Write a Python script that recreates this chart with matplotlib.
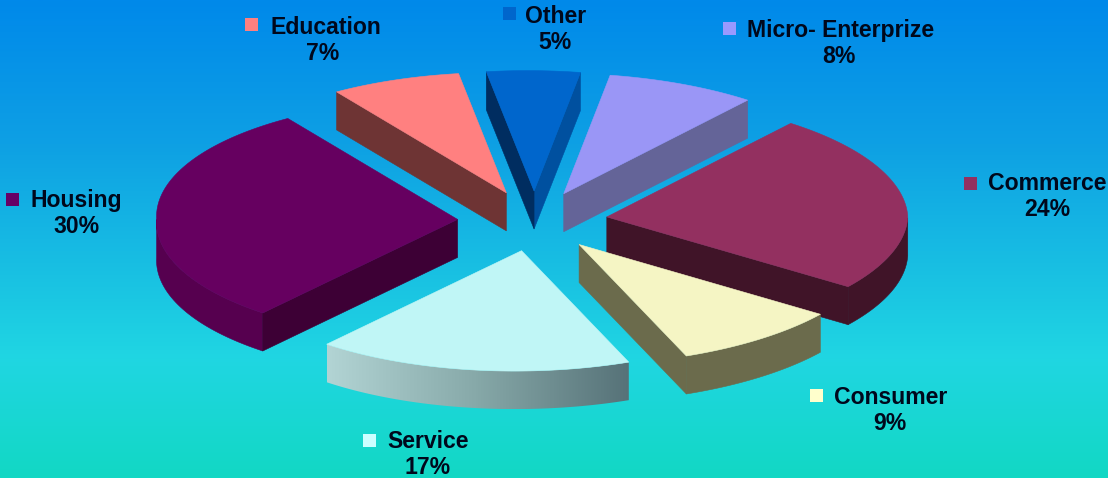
import numpy as np
import matplotlib
matplotlib.use("Agg")
import matplotlib.pyplot as plt
from matplotlib.colors import LinearSegmentedColormap
from matplotlib.patches import Polygon, Rectangle

# Loan portfolio shares, listed clockwise from the right-hand slice
categories = ["Commerce", "Consumer", "Service", "Housing", "Education", "Other", "Micro- Enterprize"]
shares = [24, 9, 17, 30, 7, 5, 8]

top_colors = ["#933060", "#f5f5c4", "#c0f6f6", "#660060", "#ff8080", "#0066cc", "#9a96f6"]
rim_colors = ["#401428", "#6b6b4c", None, "#56004f", "#6e3434", "#00509f", "#646498"]
cut_colors = ["#401428", "#6b6b4c", None, "#3d0035", "#6e3434", "#002d60", "#646498"]
swatch_colors = ["#933060", "#ffffcc", "#ccffff", "#660066", "#ff8080", "#0066cc", "#9999ff"]

W, H = 1108, 478
CX, CY = 532.5, 221
RADIUS, TILT = 301, 0.40
EXPLODE, DEPTH = 75, 38
START_ANGLE = 51.0
SKEW = 7.0  # leftward lean of the far and near rim under the camera angle

# Swatch top-left corner, name left edge and vertical centre, percent centre
label_layout = {
    "Commerce": (964, 177, 988, 184, 1047, 210),
    "Consumer": (810, 389, 834, 398, 890, 424),
    "Service": (363, 434, 387, 442, 428, 468),
    "Housing": (6, 193, 30, 200, 77, 226),
    "Education": (245, 18, 270, 27, 323, 53),
    "Other": (503, 7, 525, 16, 555, 42),
    "Micro- Enterprize": (723, 22, 747, 30, 839, 56),
}

plt.rcParams["font.family"] = ["Liberation Sans", "DejaVu Sans"]
fig = plt.figure(figsize=(W / 100, H / 100), dpi=100)
ax = fig.add_axes([0, 0, 1, 1])
ax.set_xlim(0, W)
ax.set_ylim(H, 0)
ax.axis("off")

# Vertical background wash
wash = LinearSegmentedColormap.from_list(
    "wash", [(0, "#0089ea"), (0.3, "#0ea0e4"), (0.75, "#20d6e2"), (1, "#12d8c4")]
)
ax.imshow(np.linspace(0, 1, 256)[:, None], cmap=wash, extent=(0, W, H, 0), aspect="auto", zorder=0)


def project(ox, oy, radius, angle):
    a = np.radians(angle)
    lean = SKEW * np.abs(np.sin(a)) * radius / RADIUS
    return ox + radius * np.cos(a) - lean, CY - TILT * (oy + radius * np.sin(a))


def face(xs, ys, color, z):
    ax.add_patch(Polygon(np.column_stack([xs, ys]), closed=True, fc=color, ec=color, lw=0.4, zorder=z))


# Slice spans run clockwise, so each share reduces the running angle
spans = []
angle = START_ANGLE
for share in shares:
    spans.append((angle - share * 3.6, angle))
    angle -= share * 3.6

# Back slices first so that nearer ones overlap them
order = sorted(range(len(shares)), key=lambda i: np.sin(np.radians(sum(spans[i]) / 2)), reverse=True)
for z, i in enumerate(order, start=1):
    a0, a1 = spans[i]
    mid = np.radians((a0 + a1) / 2)
    ox, oy = CX + EXPLODE * np.cos(mid), EXPLODE * np.sin(mid)
    arc = np.linspace(a0, a1, 90)
    ax_, ay_ = project(ox, oy, RADIUS, arc)
    tx, ty = project(ox, oy, 0, 0.0)

    # Outer wall, only where the rim faces the viewer
    front = np.sin(np.radians(arc)) <= 0
    if front.any():
        rx, ry = ax_[front], ay_[front]
        xs = np.concatenate([rx, rx[::-1]])
        ys = np.concatenate([ry, ry[::-1] + DEPTH])
        if rim_colors[i] is None:
            # The near slice carries a left-to-right shaded wall
            shade = LinearSegmentedColormap.from_list("wall", ["#b2d4d4", "#86a8a8", "#567278"])
            poly = Polygon(np.column_stack([xs, ys]), closed=True, transform=ax.transData, fc="none", ec="none")
            ax.add_patch(poly)
            im = ax.imshow(np.linspace(0, 1, 128)[None, :], cmap=shade, aspect="auto",
                           extent=(rx.min(), rx.max(), ry.max() + DEPTH, ry.min()), zorder=z)
            im.set_clip_path(poly)
        else:
            face(xs, ys, rim_colors[i], z)

    # Radial cut faces that turn toward the viewer
    for edge, normal in ((a0, a0 - 90), (a1, a1 + 90)):
        if np.sin(np.radians(normal)) < 0 and cut_colors[i] is not None:
            ex, ey = project(ox, oy, RADIUS, edge)
            color = cut_colors[i]
            if categories[i] == "Other" and edge == a0:
                color = rim_colors[i]
            face([tx, ex, ex, tx], [ty, ey, ey + DEPTH, ty + DEPTH], color, z)

    # Top surface
    face(np.concatenate([[tx], ax_]), np.concatenate([[ty], ay_]), top_colors[i], z + 0.5)

# Category labels with their swatches
for name, share, swatch in zip(categories, shares, swatch_colors):
    sx, sy, nx, ny, px, py = label_layout[name]
    ax.add_patch(Rectangle((sx, sy), 12.5, 12.5, fc=swatch, ec="none", zorder=20))
    ax.text(nx, ny, name, fontsize=16.6, fontweight="bold", color="#00081c", ha="left", va="center", zorder=21)
    ax.text(px, py, f"{share}%", fontsize=16.6, fontweight="bold", color="#00081c", ha="center", va="center", zorder=21)

ax.set_xlim(0, W)
ax.set_ylim(H, 0)
fig.savefig("out.png", dpi=100)
